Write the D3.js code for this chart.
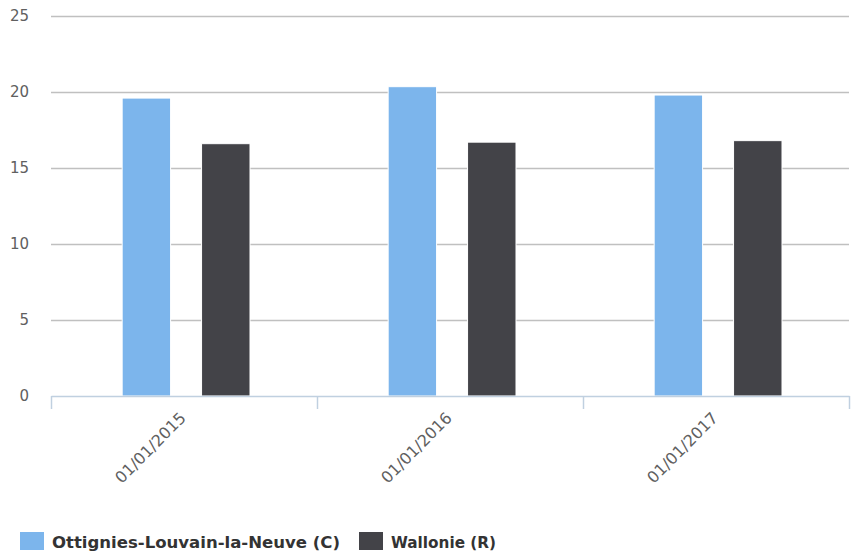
<!DOCTYPE html>
<html>
<head>
<meta charset="utf-8">
<script src="https://cdn.jsdelivr.net/npm/d3@7"></script>
<style>
  html, body { margin: 0; padding: 0; background: #fff; }
  svg { display: block; }
</style>
</head>
<body>
<svg id="chart" width="856" height="556"></svg>
<script>
// Dates shown along the x axis
const categories = ["01/01/2015", "01/01/2016", "01/01/2017"];
// Series names and values
const seriesNames = ["Ottignies-Louvain-la-Neuve (C)", "Wallonie (R)"];
const ottigniesValues = [19.6, 20.35, 19.8];
const wallonieValues = [16.6, 16.7, 16.8];
const yTicks = [0, 5, 10, 15, 20, 25];

const colors = ["#7cb5ec", "#434348"];
const seriesValues = [ottigniesValues, wallonieValues];

const rows = categories.map((c, i) => ({
  category: c,
  values: seriesNames.map((s, j) => ({ series: s, value: seriesValues[j][i], color: colors[j] }))
}));

const svg = d3.select("#chart");
const margin = { left: 51, right: 7, top: 16, bottom: 160 };
const width = 856 - margin.left - margin.right;
const height = 556 - margin.top - margin.bottom;

const g = svg.append("g").attr("transform", `translate(${margin.left},${margin.top})`);

const x0 = d3.scaleBand().domain(categories).range([0, width]);
const x1 = d3.scaleBand().domain(seriesNames)
  .range([0, x0.bandwidth()])
  .paddingInner(0.39)
  .paddingOuter(0.87)
  .align(0.515);
const y = d3.scaleLinear().domain([0, 25]).range([height, 0]);

// horizontal grid lines
g.append("g")
  .selectAll("line")
  .data(yTicks.filter(t => t > 0))
  .join("line")
  .attr("x1", 0).attr("x2", width)
  .attr("y1", d => Math.round(y(d)) + 0.5).attr("y2", d => Math.round(y(d)) + 0.5)
  .attr("stroke", "#c0c0c0").attr("stroke-width", 1.5);

// y axis labels
const yAxis = d3.axisLeft(y).tickValues(yTicks).tickSize(0).tickPadding(22);
const yg = g.append("g").call(yAxis);
yg.select(".domain").remove();
yg.selectAll("text")
  .attr("fill", "#606060")
  .style("font-family", "'DejaVu Sans', sans-serif")
  .style("font-size", "15px");

// bars
g.append("g")
  .selectAll("g")
  .data(rows)
  .join("g")
  .attr("transform", d => `translate(${x0(d.category)},0)`)
  .selectAll("rect")
  .data(d => d.values)
  .join("rect")
  .attr("x", d => x1(d.series))
  .attr("width", x1.bandwidth())
  .attr("y", d => y(d.value))
  .attr("height", d => y(0) - y(d.value))
  .attr("fill", d => d.color)
  .attr("stroke", "#ffffff")
  .attr("stroke-width", 1);

// x axis
const xAxis = d3.axisBottom(x0).tickSize(0).tickPadding(0);
const xg = g.append("g").attr("transform", `translate(0,${height})`).call(xAxis);
xg.select(".domain")
  .attr("stroke", "#c0d0e0").attr("stroke-width", 1.5);
xg.selectAll(".tick text")
  .attr("fill", "#606060")
  .style("font-family", "'DejaVu Sans', sans-serif")
  .style("font-size", "16px")
  .attr("text-anchor", "end")
  .attr("x", 0).attr("y", 0).attr("dy", "0.35em")
  .attr("transform", "translate(-1,19) rotate(-45)");
// category boundary ticks
const boundaries = categories.map(c => x0(c)).concat([width]);
xg.selectAll(".boundary")
  .data(boundaries)
  .join("line")
  .attr("class", "boundary")
  .attr("x1", d => Math.round(d) + 0.5).attr("x2", d => Math.round(d) + 0.5)
  .attr("y1", 0).attr("y2", 13)
  .attr("stroke", "#c0d0e0").attr("stroke-width", 1.5);

// legend
const legendItems = [
  { name: seriesNames[0], color: colors[0], x: 20, textWidth: 288 },
  { name: seriesNames[1], color: colors[1], x: 359, textWidth: 105 }
];
const legend = svg.append("g").attr("transform", "translate(0,532)");
legendItems.forEach(d => {
  const item = legend.append("g").attr("transform", `translate(${d.x},0)`);
  item.append("rect").attr("width", 24).attr("height", 18).attr("fill", d.color);
  item.append("text")
    .attr("x", 32).attr("y", 16)
    .attr("fill", "#333333")
    .attr("textLength", d.textWidth)
    .attr("lengthAdjust", "spacingAndGlyphs")
    .style("font-family", "'DejaVu Sans', sans-serif")
    .style("font-weight", "bold")
    .style("font-size", "16px")
    .text(d.name);
});
</script>
</body>
</html>
